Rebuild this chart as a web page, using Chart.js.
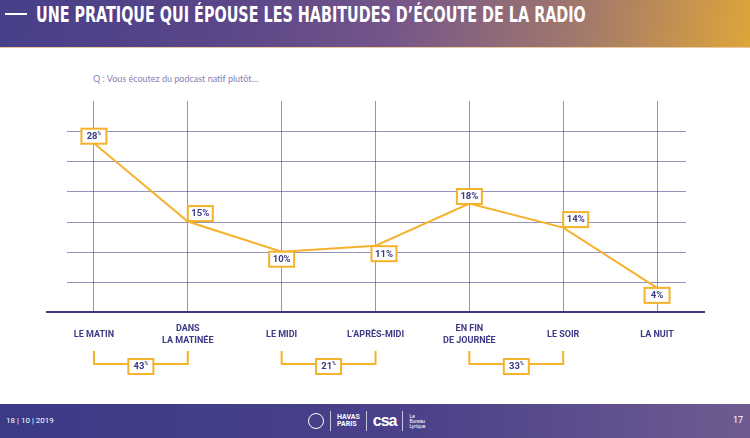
<!DOCTYPE html>
<html lang="fr">
<head>
<meta charset="utf-8">
<script src="https://cdn.jsdelivr.net/npm/chart.js@4.4.1/dist/chart.umd.min.js"></script>
<style>
  html, body { margin: 0; padding: 0; }
  body { width: 750px; height: 438px; position: relative; overflow: hidden; background: #fff; }
  .entete { position: absolute; left: 0; top: 0; width: 750px; height: 47px;
    background: linear-gradient(100deg, #473f8a 0%, #5a4688 30%, #74558a 52%, #a47a6a 78%, #dea53a 100%);
    border-bottom: 1px solid #e9c9a0; }
  .entete .tiret { position: absolute; left: 5px; top: 13px; width: 22px; height: 2px; background: #fff; }
  .entete h1 { position: absolute; left: 36px; top: 3px; margin: 0; color: #fff; white-space: nowrap;
    font: bold 21px 'Liberation Sans Narrow', 'DejaVu Sans Condensed', Roboto, sans-serif;
    transform-origin: left center; }
  .question { position: absolute; left: 93px; top: 73px; color: #8a80b2; font: 9px Lato, 'Open Sans', sans-serif; }
  .pied { position: absolute; left: 0; top: 404px; width: 750px; height: 34px;
    background: linear-gradient(90deg, #3b3a87 0%, #4a4189 55%, #6f5b90 100%); color: #fff;
    font: 8px Roboto, sans-serif; }
  .pied .date { position: absolute; left: 6px; top: 12px; }
  .pied .page { position: absolute; right: 7px; top: 11px; font-size: 9px; }
  .logos { position: absolute; left: 308px; top: 6px; height: 22px; display: flex; align-items: center; gap: 6px; }
  .logos .rond { width: 16px; height: 16px; border: 1.5px solid #fff; border-radius: 50%; box-sizing: border-box; }
  .logos .sep { width: 1px; height: 20px; background: #c9c4e0; }
  .logos .havas { font-size: 7px; line-height: 7px; font-weight: bold; }
  .logos .csa { font: bold 16px Arial, 'Liberation Sans', sans-serif; letter-spacing: -1px; }
  .logos .lyr { font-size: 5px; line-height: 5px; }
  canvas { position: absolute; left: 0; top: 0; }
</style>
</head>
<body>
<div class="entete"><div class="tiret"></div><h1 id="titre">UNE PRATIQUE QUI ÉPOUSE LES HABITUDES D’ÉCOUTE DE LA RADIO</h1></div>
<div class="question">Q : Vous écoutez du podcast natif plutôt…</div>
<div class="pied">
  <span class="date">18 | 10 | 2019</span>
  <div class="logos">
    <div class="rond"></div><div class="sep"></div>
    <div class="havas">HAVAS<br>PARIS</div><div class="sep"></div>
    <div class="csa">csa</div><div class="sep"></div>
    <div class="lyr">Le<br>Bureau<br>Lyrique</div>
  </div>
  <span class="page">17</span>
</div>
<canvas id="graph" width="750" height="438"></canvas>
<script>
// ---------- DONNÉES ----------
const moments = [["LE MATIN"], ["DANS", "LA MATINÉE"], ["LE MIDI"], ["L’APRÈS-MIDI"],
                 ["EN FIN", "DE JOURNÉE"], ["LE SOIR"], ["LA NUIT"]];
const pourcents = [28, 15, 10, 11, 18, 14, 4];
const graduations = [0, 5, 10, 15, 20, 25, 30, 35];
// regroupements sous l'axe : [premier, dernier, total]
const groupes = [[0, 1, 43], [2, 3, 21], [4, 5, 33]];
// position de l'étiquette par rapport au point
const placement = ["haut", "hautDroite", "bas", "basDroite", "haut", "hautDroite", "bas"];

const ORANGE = "#f5b22c";
const MARINE = "#3b3a85";
const POLICE = "Roboto, 'Liberation Sans', sans-serif";

// titre : ajuster la largeur
const titre = document.getElementById("titre");
titre.style.transform = "scaleX(" + (550 / titre.offsetWidth) + ")";

function boite(ctx, cx, cy, texte, exposant) {
  const w = 25, h = 15;
  ctx.fillStyle = "#fff";
  ctx.fillRect(cx - w / 2, cy - h / 2, w, h);
  ctx.strokeStyle = ORANGE;
  ctx.lineWidth = 2;
  ctx.strokeRect(cx - w / 2, cy - h / 2, w, h);
  ctx.fillStyle = MARINE;
  ctx.textBaseline = "middle";
  if (exposant) {
    ctx.font = "bold 9.5px " + POLICE;
    const tw = ctx.measureText(texte).width;
    ctx.font = "bold 5px " + POLICE;
    const pw = ctx.measureText("%").width;
    const x0 = cx - (tw + pw) / 2;
    ctx.textAlign = "left";
    ctx.font = "bold 9.5px " + POLICE;
    ctx.fillText(texte, x0, cy + 0.5);
    ctx.font = "bold 5px " + POLICE;
    ctx.fillText("%", x0 + tw, cy - 2.5);
  } else {
    ctx.font = "bold 9.5px " + POLICE;
    ctx.textAlign = "center";
    ctx.fillText(texte + "%", cx, cy + 0.5);
  }
}

const extras = {
  id: "extras",
  beforeDatasetsDraw(chart) {
    const { ctx, scales: { y } } = chart;
    ctx.save();
    ctx.strokeStyle = "rgba(59,58,133,0.55)";
    ctx.lineWidth = 1;
    y.ticks.forEach(t => {
      if (t.value <= 0 || t.value >= 35) return;
      const py = Math.round(y.getPixelForValue(t.value)) + 0.5;
      ctx.beginPath();
      ctx.moveTo(67, py);
      ctx.lineTo(686, py);
      ctx.stroke();
    });
    ctx.restore();
  },
  afterDatasetsDraw(chart) {
    const { ctx, scales: { x, y } } = chart;
    ctx.save();
    pourcents.forEach((v, i) => {
      const px = x.getPixelForValue(i), py = y.getPixelForValue(v);
      let cx = px, cy = py;
      switch (placement[i]) {
        case "haut": cy = py - 7; break;
        case "bas": cy = py + 7.5; break;
        case "hautDroite": cx = px + 12.5; cy = py - 8; break;
        case "basDroite": cx = px + 8.5; cy = py + 8; break;
      }
      boite(ctx, cx, cy, String(v), i === 0);
    });
    // accolades sous l'axe
    groupes.forEach(([a, b, total]) => {
      const xa = x.getPixelForValue(a), xb = x.getPixelForValue(b);
      const yh = 351, yb = 364;
      ctx.strokeStyle = ORANGE;
      ctx.lineWidth = 2;
      ctx.beginPath();
      ctx.moveTo(xa, yh);
      ctx.lineTo(xa, yb);
      ctx.lineTo(xb, yb);
      ctx.lineTo(xb, yh);
      ctx.stroke();
      boite(ctx, (xa + xb) / 2, 366.5, String(total), true);
    });
    ctx.restore();
  }
};

new Chart(document.getElementById("graph"), {
  type: "line",
  data: {
    labels: moments,
    datasets: [{
      data: pourcents,
      borderColor: ORANGE,
      borderWidth: 2,
      pointRadius: 0,
      tension: 0,
      fill: false
    }]
  },
  options: {
    responsive: false,
    animation: false,
    layout: { padding: { left: 47, right: 46, top: 101, bottom: 66 } },
    plugins: { legend: { display: false }, tooltip: { enabled: false } },
    scales: {
      x: {
        offset: true,
        grid: { offset: false, color: "rgba(59,58,133,0.55)", lineWidth: 1, drawTicks: false },
        border: { color: MARINE, width: 2 },
        ticks: { color: MARINE, padding: 17, maxRotation: 0, autoSkip: false,
                 crossAlign: "center", font: { family: POLICE, size: 9, weight: "bold", lineHeight: 1.35 } },
        afterFit(s) { s.height = 60; }
      },
      y: {
        min: graduations[0],
        max: graduations[graduations.length - 1],
        ticks: { display: false, stepSize: 5 },
        grid: { display: false },
        border: { display: false },
        afterFit(s) { s.width = 0; }
      }
    }
  },
  plugins: [extras]
});
</script>
</body>
</html>
